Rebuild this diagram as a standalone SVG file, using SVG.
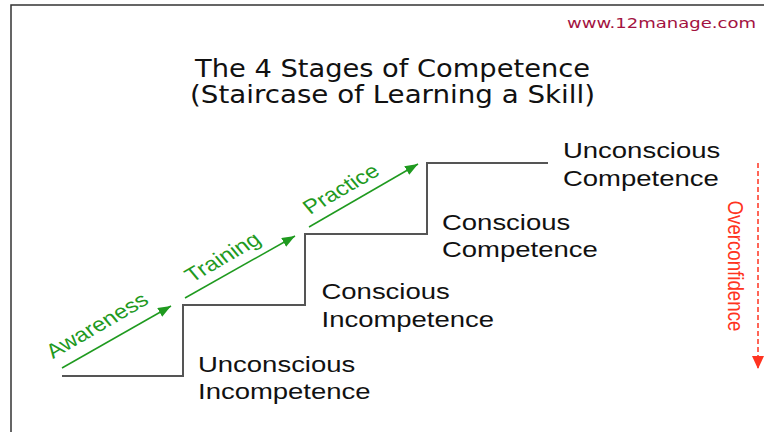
<svg xmlns="http://www.w3.org/2000/svg" width="764" height="432" viewBox="0 0 764 432">
  <style>
    .frame { fill: none; stroke: #333333; stroke-width: 1.5; }
    .stair { fill: none; stroke: #555555; stroke-width: 2; }
    .garrow { fill: none; stroke: #1f9a1f; stroke-width: 1.5; }
    .rarrow { fill: none; stroke: #ff3320; stroke-width: 1.5; stroke-dasharray: 5 3; }
    .title { font-family: "DejaVu Sans", Verdana, sans-serif; font-size: 24.5px; fill: #111111; }
    .url { font-family: "DejaVu Sans", Verdana, sans-serif; font-size: 14px; fill: #a3123f; }
    .stage { font-family: "Liberation Sans", Arial, sans-serif; font-size: 22.9px; fill: #111111; }
    .glabel { font-family: "Liberation Sans", Arial, sans-serif; font-size: 20px; fill: #1f9a1f; }
    .rlabel { font-family: "Liberation Sans", Arial, sans-serif; font-size: 18.7px; fill: #ff3320; }
  </style>
  <defs>
    <marker id="gHead" markerUnits="userSpaceOnUse" markerWidth="14" markerHeight="10" refX="13" refY="5" orient="auto">
      <path d="M0,0 L13,5 L0,10 Z" fill="#1f9a1f"/>
    </marker>
    <marker id="rHead" markerUnits="userSpaceOnUse" markerWidth="14" markerHeight="12" refX="13" refY="6" orient="auto">
      <path d="M0,0 L13,6 L0,12 Z" fill="#ff3320"/>
    </marker>
  </defs>

  <rect x="0" y="0" width="764" height="432" fill="#ffffff"/>
  <path class="frame" d="M11,432 L11,5 L764,5"/>

  <g id="header">
    <text class="url" x="567" y="28" textLength="189" lengthAdjust="spacingAndGlyphs">www.12manage.com</text>
    <text class="title" x="195" y="76.5" textLength="395" lengthAdjust="spacingAndGlyphs">The 4 Stages of Competence</text>
    <text class="title" x="190" y="103" textLength="405" lengthAdjust="spacingAndGlyphs">(Staircase of Learning a Skill)</text>
  </g>

  <g id="connectors">
    <path id="staircase" class="stair" d="M62,376 L183,376 L183,305 L305,305 L305,234 L427,234 L427,163 L548,163"/>
    <line id="arrow-awareness" class="garrow" x1="62" y1="368" x2="171" y2="306" marker-end="url(#gHead)"/>
    <line id="arrow-training" class="garrow" x1="185" y1="298" x2="295" y2="236" marker-end="url(#gHead)"/>
    <line id="arrow-practice" class="garrow" x1="309" y1="227" x2="418" y2="164" marker-end="url(#gHead)"/>
    <line id="arrow-overconfidence" class="rarrow" x1="758" y1="163" x2="758" y2="369" marker-end="url(#rHead)"/>
  </g>

  <g id="label-awareness">
    <text class="glabel" transform="translate(53,359) scale(1.2,1) rotate(-34.7)">Awareness</text>
  </g>
  <g id="label-training">
    <text class="glabel" transform="translate(192,283) scale(1.2,1) rotate(-34.7)">Training</text>
  </g>
  <g id="label-practice">
    <text class="glabel" transform="translate(310,215) scale(1.2,1) rotate(-34.7)">Practice</text>
  </g>
  <g id="label-overconfidence">
    <text class="rlabel" transform="translate(727.5,200.5) scale(1.2,1) rotate(90)">Overconfidence</text>
  </g>

  <g id="stage-unconscious-incompetence">
    <text class="stage" transform="translate(198,372) scale(1.2,1)">Unconscious</text>
    <text class="stage" transform="translate(198,399) scale(1.2,1)">Incompetence</text>
  </g>
  <g id="stage-conscious-incompetence">
    <text class="stage" transform="translate(321.5,299) scale(1.2,1)">Conscious</text>
    <text class="stage" transform="translate(321.5,326.5) scale(1.2,1)">Incompetence</text>
  </g>
  <g id="stage-conscious-competence">
    <text class="stage" transform="translate(442,230) scale(1.2,1)">Conscious</text>
    <text class="stage" transform="translate(442,257) scale(1.2,1)">Competence</text>
  </g>
  <g id="stage-unconscious-competence">
    <text class="stage" transform="translate(563,158) scale(1.2,1)">Unconscious</text>
    <text class="stage" transform="translate(563,185.5) scale(1.2,1)">Competence</text>
  </g>
</svg>
